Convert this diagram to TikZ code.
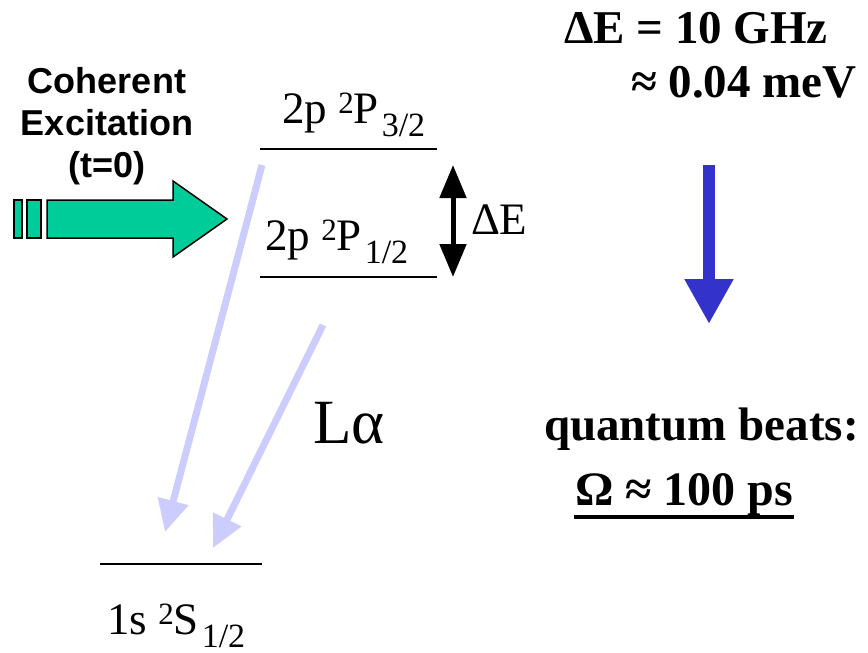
\documentclass[tikz,border=0pt]{standalone}
\usepackage{fontspec}
\setmainfont{Liberation Serif}
\setsansfont{Liberation Sans}
\usetikzlibrary{arrows.meta}
\definecolor{cgreen}{HTML}{00CC99}
\definecolor{cdecay}{HTML}{CCCCFF}
\definecolor{cbeat}{HTML}{3333CC}
\newcommand{\fs}[1]{\fontsize{#1}{#1}\selectfont}
\newcommand{\term}[4]{#1~\raisebox{10pt}{\fs{31}#2}#3\kern3pt\raisebox{-13pt}{\fs{34}#4}}
\tikzset{
  every picture/.style={x=1pt, y=-1pt, line width=2pt},
  lvl/.style={draw, line width=2pt},
  lbl/.style={anchor=base west, inner sep=0pt, font=\fs{45}},
  bigbold/.style={anchor=base west, inner sep=0pt, font=\bfseries\fs{47}},
  pulse/.style={draw=black, fill=cgreen, line width=1.5pt},
  decay/.style={draw=cdecay, line width=7pt, -{Triangle[length=32pt, width=30pt]}},
  gap/.style={draw=black, line width=5pt, {Triangle[length=33pt, width=26pt]}-{Triangle[length=33pt, width=26pt]}},
  beat/.style={draw=cbeat, line width=12pt, -{Triangle[length=45pt, width=46pt]}},
}

\begin{document}
\begin{tikzpicture}
  \useasboundingbox (0,0) rectangle (868,653);
  % excitation pulse
  \node[font=\sffamily\bfseries\fontsize{36}{42}\selectfont, align=center, inner sep=0pt, anchor=north] (exc) at (107,66) {Coherent\\Excitation\\(t=0)};
  \foreach \xa/\xb in {14/22, 27/41} \draw[pulse] (\xa,200) rectangle (\xb,238);
  \draw[pulse] (47,200) -- (173,200) -- (173,181) -- (227,219) -- (173,257) -- (173,238) -- (47,238) -- cycle;
  % levels
  \foreach \n/\xa/\xb/\y in {p32/260/437/149, p12/260/437/277, s12/100/262/564} {
    \coordinate (\n-l) at (\xa,\y);
    \coordinate (\n-r) at (\xb,\y);
    \draw[lvl] (\n-l) -- (\n-r);
  }
  \node[lbl] (t32) at (281,123) {\term{2p}{2}{P}{3/2}};
  \node[lbl] (t12) at (264,250) {\term{2p}{2}{P}{1/2}};
  \node[lbl] (t1s) at (106,634) {\term{1s}{2}{S}{1/2}};
  % splitting
  \coordinate (g1) at (453,165);
  \coordinate (g2) at (453,277);
  \draw[gap] (g1) -- (g2);
  \node[lbl] (de) at (470,234) {ΔE};
  % decays
  \coordinate (d1) at (262,165);
  \coordinate (d1e) at (165,532);
  \coordinate (d2) at (323,325);
  \coordinate (d2e) at (213,548);
  \draw[decay] (d1) -- (d1e);
  \draw[decay] (d2) -- (d2e);
  \node[lbl, font=\fs{63}] (la) at (312,443) {Lα};
  % beats
  \node[bigbold] (e1) at (563,43) {ΔE = 10 GHz};
  \node[bigbold] (e2) at (630,97) {≈ 0.04 meV};
  \coordinate (b1) at (709,165);
  \coordinate (b2) at (709,324);
  \draw[beat] (b1) -- (b2);
  \node[bigbold] (qb) at (543,440) {quantum beats:};
  \node[bigbold, font=\bfseries\fs{48}] (om) at (574,505) {Ω ≈ 100 ps};
  \draw[line width=4pt] ([yshift=-12pt]om.base west) -- ([yshift=-12pt]om.base east);
\end{tikzpicture}
\end{document}
